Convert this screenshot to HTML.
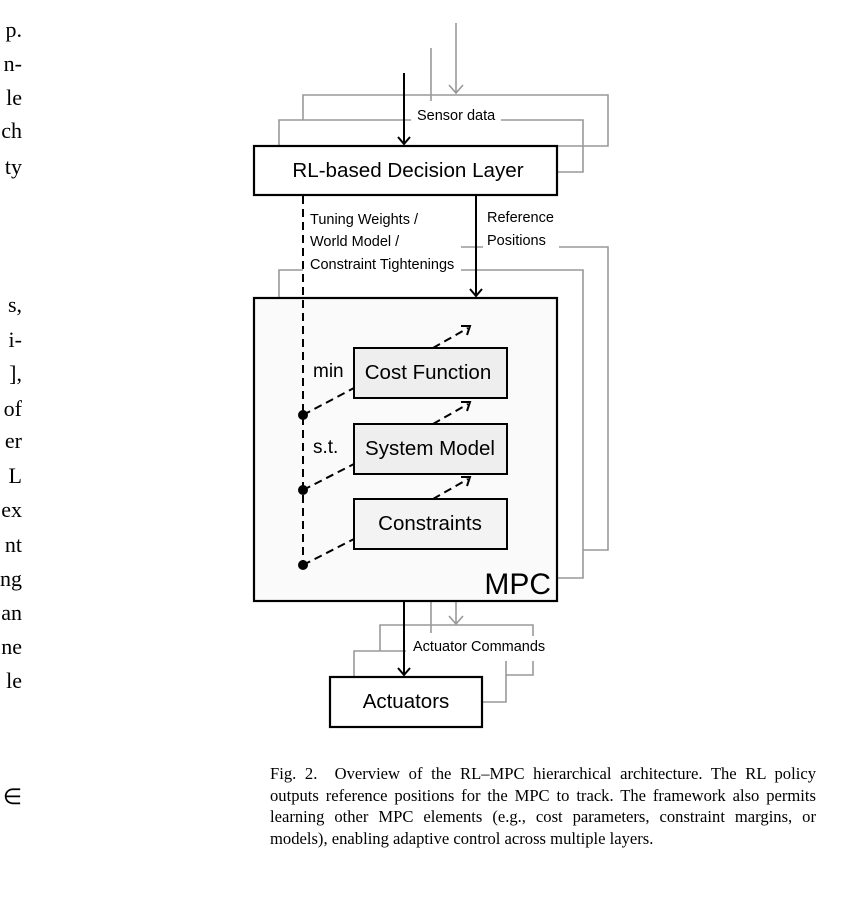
<!DOCTYPE html>
<html><head><style>
body{margin:0;width:863px;height:902px;background:#fff;overflow:hidden;position:relative;font-family:"Liberation Serif",serif}
.l{position:absolute;right:841px;font-size:22px;white-space:nowrap;line-height:1}
.c{position:absolute;left:270px;width:546px;font-size:16.6px;line-height:1;white-space:nowrap}
.j{text-align:justify;text-align-last:justify}
svg{position:absolute;left:0;top:0}
</style></head><body>
<div class="l" style="top:19px">p.</div>
<div class="l" style="top:53px">n-</div>
<div class="l" style="top:87px">le</div>
<div class="l" style="top:120px">ch</div>
<div class="l" style="top:156px">ty</div>
<div class="l" style="top:294px">s,</div>
<div class="l" style="top:329px">i-</div>
<div class="l" style="top:363px">],</div>
<div class="l" style="top:398px">of</div>
<div class="l" style="top:430px">er</div>
<div class="l" style="top:465px">L</div>
<div class="l" style="top:499px">ex</div>
<div class="l" style="top:534px">nt</div>
<div class="l" style="top:568px">ng</div>
<div class="l" style="top:602px">an</div>
<div class="l" style="top:636px">ne</div>
<div class="l" style="top:670px">le</div>
<div class="l" style="top:786px">∈</div>
<div class="c j" style="top:766px">Fig. 2.&nbsp;&nbsp;Overview of the RL–MPC hierarchical architecture. The RL policy</div>
<div class="c j" style="top:788px">outputs reference positions for the MPC to track. The framework also permits</div>
<div class="c j" style="top:809px">learning other MPC elements (e.g., cost parameters, constraint margins, or</div>
<div class="c" style="top:831px">models), enabling adaptive control across multiple layers.</div>
<svg width="863" height="902" font-family="Liberation Sans, sans-serif">
<g stroke="#999" stroke-width="1.6" fill="none">
<path d="M431 48V101M456 23V93M449 85L456 93L463 85"/>
<path d="M303 120V95H608V146H557"/>
<path d="M279 145V120H411M501 120H583V172H557"/>
<path d="M461 247H483M559 247H608V550H583"/>
<path d="M279 297V270H303M461 270H583V578H557"/>
<path d="M431 601V633M456 601V623M449 616L456 624L463 616"/>
<path d="M380 651V625H533V636"/>
<path d="M354 677V651H406"/>
<path d="M533 661V675H506M506 661V702H482"/>
</g>
<rect x="254" y="146" width="303" height="49" fill="#fff" stroke="#000" stroke-width="2.2"/>
<text x="408" y="177" font-size="20.6" text-anchor="middle">RL-based Decision Layer</text>
<rect x="254" y="298" width="303" height="303" fill="#fafafa" stroke="#000" stroke-width="2.2"/>
<text x="551" y="594" font-size="30" text-anchor="end">MPC</text>
<rect x="330" y="677" width="152" height="50" fill="#fff" stroke="#000" stroke-width="2.2"/>
<text x="406" y="708" font-size="20.5" text-anchor="middle">Actuators</text>
<g fill="#eee" stroke="#000" stroke-width="2">
<rect x="354" y="348" width="153" height="50"/>
<rect x="354" y="424" width="153" height="50"/>
<rect x="354" y="499" width="153" height="50" fill="#f3f3f3"/>
</g>
<g font-size="20.5" text-anchor="middle">
<text x="428" y="379">Cost Function</text>
<text x="430" y="455">System Model</text>
<text x="430" y="530">Constraints</text>
</g>
<text x="313" y="377" font-size="19">min</text>
<text x="313" y="453" font-size="19">s.t.</text>
<g stroke="#000" stroke-width="2" fill="none">
<path d="M404 73V143M398 137L404 144L410 137"/>
<path d="M476 195V295M470 289L476 296L482 289"/>
<path d="M404 601V674M398 668L404 675L410 668"/>
<path d="M303 196V565" stroke-dasharray="8,5"/>
<path d="M303 415L354 388M303 490L354 464M303 565L354 539" stroke-dasharray="8,5"/>
<path d="M433 348L468 328M433 424L468 404M433 499L468 479" stroke-dasharray="8,5"/>
<path d="M461 326L470 326L467 335M461 402L470 402L467 411M461 477L470 477L467 486"/>
</g>
<g fill="#000"><circle cx="303" cy="415" r="5"/><circle cx="303" cy="490" r="5"/><circle cx="303" cy="565" r="5"/></g>
<g font-size="14.5">
<text x="417" y="120">Sensor data</text>
<text x="310" y="224">Tuning Weights /</text>
<text x="310" y="246">World Model /</text>
<text x="310" y="269">Constraint Tightenings</text>
<text x="487" y="222">Reference</text>
<text x="487" y="245">Positions</text>
<text x="413" y="651">Actuator Commands</text>
</g>
</svg>
</body></html>
